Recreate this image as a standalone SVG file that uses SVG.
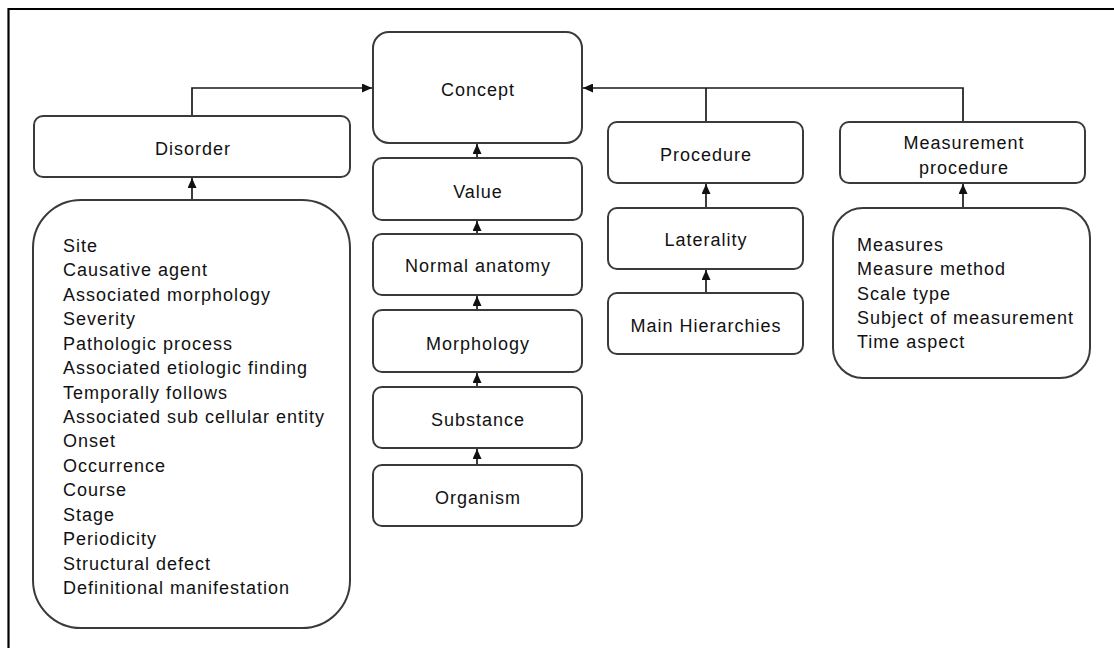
<svg xmlns="http://www.w3.org/2000/svg" width="1114" height="648" viewBox="0 0 1114 648">
  <style>
    .box { fill: #ffffff; stroke: #3a3a3a; stroke-width: 2; }
    .lbl { font-family: "Liberation Sans", Arial, sans-serif; font-size: 18px; letter-spacing: 1px; fill: #111111; text-anchor: middle; }
    .lst { font-family: "Liberation Sans", Arial, sans-serif; font-size: 18px; letter-spacing: 1px; fill: #111111; }
    .con { fill: none; stroke: #1a1a1a; stroke-width: 1.7; }
    .frame { stroke: #000000; stroke-width: 2.2; }
  </style>
  <defs>
    <marker id="arr" viewBox="0 0 10 9" refX="10" refY="4.5" markerWidth="10" markerHeight="9" markerUnits="userSpaceOnUse" orient="auto">
      <path d="M0,0 L10,4.5 L0,9 Z" fill="#111111"/>
    </marker>
  </defs>
  <rect x="0" y="0" width="1114" height="648" fill="#ffffff"/>
  <!-- page frame: top and left edges -->
  <line class="frame" x1="8" y1="9" x2="1114" y2="9"/>
  <line class="frame" x1="8.5" y1="8" x2="8.5" y2="648"/>

  <g id="connectors">
    <path class="con" d="M192,116 V88 H372" marker-end="url(#arr)"/>
    <path class="con" d="M963,122 V88 H583" marker-end="url(#arr)"/>
    <path class="con" d="M706,122 V88"/>
    <path class="con" d="M477,158 V144" marker-end="url(#arr)"/>
    <path class="con" d="M477,234 V221" marker-end="url(#arr)"/>
    <path class="con" d="M477,310 V296" marker-end="url(#arr)"/>
    <path class="con" d="M477,387 V373" marker-end="url(#arr)"/>
    <path class="con" d="M477,465 V449" marker-end="url(#arr)"/>
    <path class="con" d="M706,208 V184" marker-end="url(#arr)"/>
    <path class="con" d="M706,293 V270" marker-end="url(#arr)"/>
    <path class="con" d="M192,200 V178" marker-end="url(#arr)"/>
    <path class="con" d="M963,208 V184" marker-end="url(#arr)"/>
  </g>

  <g id="concept">
    <rect class="box" x="373" y="32" width="209" height="111" rx="16"/>
    <text class="lbl" x="478" y="95.5">Concept</text>
  </g>
  <g id="disorder">
    <rect class="box" x="34" y="116" width="316" height="61" rx="9"/>
    <text class="lbl" x="193" y="155">Disorder</text>
  </g>
  <g id="disorder-attributes">
    <rect class="box" x="33" y="200" width="317" height="428" rx="48"/>
    <text class="lst" x="63" y="252">Site</text>
    <text class="lst" x="63" y="276.4">Causative agent</text>
    <text class="lst" x="63" y="300.9">Associated morphology</text>
    <text class="lst" x="63" y="325.3">Severity</text>
    <text class="lst" x="63" y="349.7">Pathologic process</text>
    <text class="lst" x="63" y="374.1">Associated etiologic finding</text>
    <text class="lst" x="63" y="398.6">Temporally follows</text>
    <text class="lst" x="63" y="423">Associated sub cellular entity</text>
    <text class="lst" x="63" y="447.4">Onset</text>
    <text class="lst" x="63" y="471.9">Occurrence</text>
    <text class="lst" x="63" y="496.3">Course</text>
    <text class="lst" x="63" y="520.7">Stage</text>
    <text class="lst" x="63" y="545.1">Periodicity</text>
    <text class="lst" x="63" y="569.6">Structural defect</text>
    <text class="lst" x="63" y="594">Definitional manifestation</text>
  </g>
  <g id="value">
    <rect class="box" x="373" y="158" width="209" height="62" rx="9"/>
    <text class="lbl" x="478" y="197.5">Value</text>
  </g>
  <g id="normal-anatomy">
    <rect class="box" x="373" y="234" width="209" height="61" rx="9"/>
    <text class="lbl" x="478" y="271.5">Normal anatomy</text>
  </g>
  <g id="morphology">
    <rect class="box" x="373" y="310" width="209" height="62" rx="9"/>
    <text class="lbl" x="478" y="350">Morphology</text>
  </g>
  <g id="substance">
    <rect class="box" x="373" y="387" width="209" height="61" rx="9"/>
    <text class="lbl" x="478" y="426">Substance</text>
  </g>
  <g id="organism">
    <rect class="box" x="373" y="465" width="209" height="61" rx="9"/>
    <text class="lbl" x="478" y="503.5">Organism</text>
  </g>
  <g id="procedure">
    <rect class="box" x="608" y="122" width="195" height="61" rx="9"/>
    <text class="lbl" x="706" y="161">Procedure</text>
  </g>
  <g id="laterality">
    <rect class="box" x="608" y="208" width="195" height="61" rx="9"/>
    <text class="lbl" x="706" y="246">Laterality</text>
  </g>
  <g id="main-hierarchies">
    <rect class="box" x="608" y="293" width="195" height="61" rx="9"/>
    <text class="lbl" x="706" y="331.5">Main Hierarchies</text>
  </g>
  <g id="measurement-procedure">
    <rect class="box" x="840" y="122" width="245" height="61" rx="9"/>
    <text class="lbl" x="964" y="149">Measurement</text>
    <text class="lbl" x="964" y="174">procedure</text>
  </g>
  <g id="measurement-attributes">
    <rect class="box" x="833" y="208" width="257" height="170" rx="30"/>
    <text class="lst" x="857" y="251">Measures</text>
    <text class="lst" x="857" y="275.3">Measure method</text>
    <text class="lst" x="857" y="299.5">Scale type</text>
    <text class="lst" x="857" y="323.8">Subject of measurement</text>
    <text class="lst" x="857" y="348">Time aspect</text>
  </g>
</svg>
